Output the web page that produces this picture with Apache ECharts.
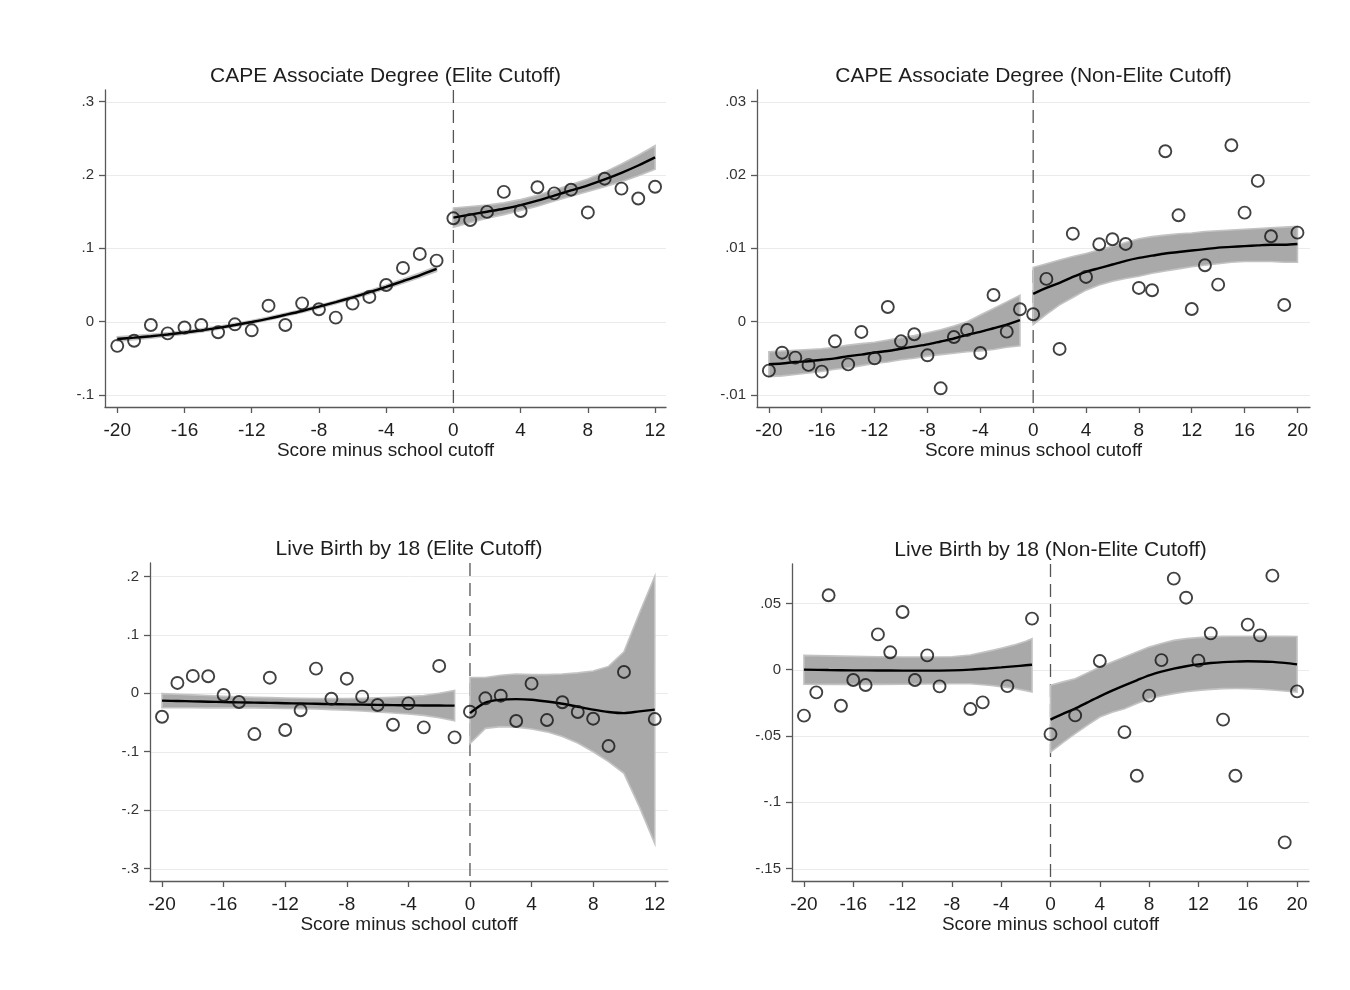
<!DOCTYPE html>
<html>
<head>
<meta charset="utf-8">
<script src="https://cdn.jsdelivr.net/npm/echarts@6.0.0/dist/echarts.min.js"></script>
<style>
  html, body { margin: 0; padding: 0; background: #ffffff; }
  #chart { width: 1350px; height: 990px; }
</style>
</head>
<body>
<div id="chart"></div>
<script>
// ---------- tick values ----------
const xTicksElite = [-20, -16, -12, -8, -4, 0, 4, 8, 12];
const xTicksNonElite = [-20, -16, -12, -8, -4, 0, 4, 8, 12, 16, 20];
const yTicksCape = [-0.1, 0, 0.1, 0.2, 0.3];
const yTicksCapeNE = [-0.01, 0, 0.01, 0.02, 0.03];
const yTicksBirth = [-0.3, -0.2, -0.1, 0, 0.1, 0.2];
const yTicksBirthNE = [-0.15, -0.1, -0.05, 0, 0.05];

const titles = [
  'CAPE Associate Degree (Elite Cutoff)',
  'CAPE Associate Degree (Non-Elite Cutoff)',
  'Live Birth by 18 (Elite Cutoff)',
  'Live Birth by 18 (Non-Elite Cutoff)'
];
const xName = 'Score minus school cutoff';

// ---------- CAPE associate degree, elite cutoff ----------
const capeEliteBinX = [-20, -19, -18, -17, -16, -15, -14, -13, -12, -11, -10, -9, -8, -7, -6, -5, -4, -3, -2, -1,
  0, 1, 2, 3, 4, 5, 6, 7, 8, 9, 10, 11, 12];
const capeEliteBinY = [-0.033, -0.026, -0.0045, -0.016, -0.008, -0.0045, -0.0145, -0.0036, -0.0118, 0.0218,
  -0.0045, 0.025, 0.0169, 0.0055, 0.0246, 0.0337, 0.050, 0.0733, 0.0924, 0.0833,
  0.141, 0.1387, 0.1497, 0.177, 0.151, 0.1833, 0.175, 0.180, 0.149, 0.195, 0.1815, 0.168, 0.184];
const capeEliteLeftX = [-20, -19, -18, -17, -16, -15, -14, -13, -12, -11, -10, -9, -8, -7, -6, -5, -4, -3, -2, -1];
const capeEliteLeftFit = [-0.0236, -0.0218, -0.0198, -0.0175, -0.0148, -0.0118, -0.0084, -0.0046, -0.0004, 0.0042,
  0.0093, 0.0146, 0.0205, 0.0266, 0.0332, 0.0402, 0.0475, 0.0553, 0.0633, 0.0719];
const capeEliteLeftLo = [-0.0266, -0.0246, -0.0224, -0.0199, -0.0170, -0.0139, -0.0104, -0.0066, -0.0024, 0.0022,
  0.0073, 0.0126, 0.0185, 0.0246, 0.0310, 0.0378, 0.0449, 0.0524, 0.0601, 0.0684];
const capeEliteLeftHi = [-0.0206, -0.0190, -0.0172, -0.0151, -0.0126, -0.0097, -0.0064, -0.0026, 0.0016, 0.0062,
  0.0113, 0.0166, 0.0225, 0.0286, 0.0354, 0.0426, 0.0501, 0.0582, 0.0665, 0.0754];
const capeEliteRightX = [0, 1, 2, 3, 4, 5, 6, 7, 8, 9, 10, 11, 12];
const capeEliteRightFit = [0.142, 0.146, 0.150, 0.154, 0.159, 0.165, 0.172, 0.179, 0.186, 0.194, 0.203, 0.213, 0.224];
const capeEliteRightLo = [0.129, 0.135, 0.141, 0.146, 0.1515, 0.1575, 0.1645, 0.171, 0.1775, 0.184, 0.191, 0.199, 0.208];
const capeEliteRightHi = [0.155, 0.157, 0.159, 0.162, 0.1665, 0.1725, 0.1795, 0.187, 0.1945, 0.204, 0.215, 0.227, 0.240];

// ---------- CAPE associate degree, non-elite cutoff ----------
const capeNonEliteBinX = [-20, -19, -18, -17, -16, -15, -14, -13, -12, -11, -10, -9, -8, -7, -6, -5, -4, -3, -2, -1,
  0, 1, 2, 3, 4, 5, 6, 7, 8, 9, 10, 11, 12, 13, 14, 15, 16, 17, 18, 19, 20];
const capeNonEliteBinY = [-0.00668, -0.00423, -0.00491, -0.0059, -0.00682, -0.00268, -0.00582, -0.0014, -0.005, 0.002,
  -0.00268, -0.00172, -0.00459, -0.00909, -0.00209, -0.00113, -0.00427, 0.00364, -0.00136, 0.00169,
  0.00101, 0.00583, -0.00372, 0.0120, 0.0061, 0.01056, 0.01124, 0.0106, 0.0046, 0.00428, 0.02324,
  0.01451, 0.00173, 0.0077, 0.00505, 0.02406, 0.01487, 0.0192, 0.01165, 0.00228, 0.01214];
const capeNonEliteLeftX = [-20, -19, -18, -17, -16, -15, -14, -13, -12, -11, -10, -9, -8, -7, -6, -5, -4, -3, -2, -1];
const capeNonEliteLeftFit = [-0.0058, -0.0057, -0.0055, -0.0054, -0.0052, -0.0050, -0.0047, -0.0045, -0.0042, -0.0040,
  -0.0037, -0.0034, -0.0031, -0.0027, -0.0023, -0.0018, -0.0014, -0.0009, -0.0004, 0.0002];
const capeNonEliteLeftLo = [-0.0075, -0.0074, -0.0072, -0.0070, -0.0068, -0.0065, -0.0063, -0.0060, -0.0057, -0.0055,
  -0.0052, -0.0050, -0.0047, -0.0045, -0.0043, -0.0041, -0.0040, -0.0038, -0.0035, -0.0033];
const capeNonEliteLeftHi = [-0.0041, -0.0040, -0.0039, -0.0038, -0.0037, -0.0035, -0.0032, -0.0030, -0.0028, -0.0025,
  -0.0022, -0.0019, -0.0015, -0.0011, -0.0006, 0.0000, 0.0009, 0.0018, 0.0027, 0.0036];
const capeNonEliteRightX = [0, 1, 2, 3, 4, 5, 6, 7, 8, 9, 10, 11, 12, 13, 14, 15, 16, 17, 18, 19, 20];
const capeNonEliteRightFit = [0.0038, 0.0046, 0.0053, 0.0061, 0.0068, 0.0073, 0.0078, 0.0083, 0.0087, 0.0090, 0.0093,
  0.0095, 0.0097, 0.0099, 0.0101, 0.0102, 0.0103, 0.0104, 0.0105, 0.0105, 0.0106];
const capeNonEliteRightLo = [-0.0004, 0.0010, 0.0023, 0.0033, 0.0043, 0.0050, 0.0055, 0.0059, 0.0062, 0.0066, 0.0069,
  0.0072, 0.0075, 0.0077, 0.0079, 0.0081, 0.0082, 0.0082, 0.0082, 0.0081, 0.0081];
const capeNonEliteRightHi = [0.0074, 0.0079, 0.0084, 0.0089, 0.0093, 0.0098, 0.0103, 0.0108, 0.0113, 0.0116, 0.0118,
  0.0120, 0.0121, 0.0123, 0.0124, 0.0125, 0.0126, 0.0127, 0.0128, 0.0129, 0.0130];

// ---------- live birth by 18, elite cutoff ----------
const birthEliteBinX = [-20, -19, -18, -17, -16, -15, -14, -13, -12, -11, -10, -9, -8, -7, -6, -5, -4, -3, -2, -1,
  0, 1, 2, 3, 4, 5, 6, 7, 8, 9, 10, 12];
const birthEliteBinY = [-0.0401, 0.0177, 0.0297, 0.0291, -0.0029, -0.0149, -0.0698, 0.0267, -0.0629, -0.0291,
  0.0422, -0.0093, 0.025, -0.0058, -0.0201, -0.0538, -0.0172, -0.0583, 0.0468, -0.0754,
  -0.0315, -0.0086, -0.0041, -0.0475, 0.0165, -0.0458, -0.0154, -0.0321, -0.0435, -0.0903, 0.0365, -0.0441];
const birthEliteLeftX = [-20, -19, -18, -17, -16, -15, -14, -13, -12, -11, -10, -9, -8, -7, -6, -5, -4, -3, -2, -1];
const birthEliteLeftFit = [-0.0126, -0.0132, -0.0138, -0.0144, -0.0150, -0.0155, -0.0160, -0.0165, -0.0170, -0.0175,
  -0.0180, -0.0185, -0.0190, -0.0194, -0.0198, -0.0202, -0.0205, -0.0208, -0.0210, -0.0212];
const birthEliteLeftLo = [-0.0246, -0.0247, -0.0248, -0.0249, -0.0250, -0.0250, -0.0250, -0.0255, -0.0260, -0.0265,
  -0.0270, -0.0280, -0.0290, -0.0304, -0.0318, -0.0337, -0.0355, -0.0378, -0.0420, -0.0472];
const birthEliteLeftHi = [-0.0006, -0.0017, -0.0028, -0.0039, -0.0050, -0.0060, -0.0070, -0.0075, -0.0080, -0.0085,
  -0.0090, -0.0090, -0.0090, -0.0084, -0.0078, -0.0067, -0.0055, -0.0038, 0.0000, 0.0048];
const birthEliteRightX = [0, 1, 2, 3, 4, 5, 6, 7, 8, 9, 10, 11, 12];
const birthEliteRightFit = [-0.034, -0.016, -0.011, -0.010, -0.011, -0.014, -0.018, -0.023, -0.028, -0.032, -0.034,
  -0.031, -0.028];
const birthEliteRightLo = [-0.086, -0.060, -0.057, -0.058, -0.061, -0.066, -0.074, -0.085, -0.100, -0.117, -0.137,
  -0.194, -0.257];
const birthEliteRightHi = [0.027, 0.027, 0.031, 0.033, 0.032, 0.032, 0.033, 0.035, 0.038, 0.046, 0.071, 0.137, 0.200];

// ---------- live birth by 18, non-elite cutoff ----------
const birthNonEliteBinX = [-20, -19, -18, -17, -16, -15, -14, -13, -12, -11, -10, -9, -6.5, -5.5, -3.5, -1.5,
  0, 2, 4, 6, 7, 8, 9, 10, 11, 12, 13, 14, 15, 16, 17, 18, 19, 20];
const birthNonEliteBinY = [-0.0347, -0.0171, 0.0561, -0.0272, -0.0078, -0.0116, 0.0266, 0.0131, 0.0435, -0.0078,
  0.0108, -0.0126, -0.0297, -0.0247, -0.0124, 0.0385,
  -0.0486, -0.0345, 0.0065, -0.0471, -0.080, -0.0196, 0.0072, 0.0687, 0.0543, 0.0068, 0.0274, -0.0377, -0.080,
  0.034, 0.0259, 0.0709, -0.1303, -0.0164];
const birthNonEliteLeftX = [-20, -18, -16, -14, -12, -10, -8, -6.5, -5, -4, -3, -2, -1.5];
const birthNonEliteLeftFit = [0.0000, -0.0003, -0.0005, -0.0006, -0.0007, -0.0007, -0.0005, 0.0000, 0.0010, 0.0017,
  0.0025, 0.0033, 0.0037];
const birthNonEliteLeftLo = [-0.0110, -0.0111, -0.0111, -0.0111, -0.0110, -0.0108, -0.0106, -0.0106, -0.0118, -0.0128,
  -0.0140, -0.0158, -0.0169];
const birthNonEliteLeftHi = [0.0108, 0.0104, 0.0100, 0.0097, 0.0095, 0.0095, 0.0097, 0.0110, 0.0140, 0.0162, 0.0185,
  0.0215, 0.0234];
const birthNonEliteRightX = [0, 1, 2, 3, 4, 5, 6, 7, 8, 9, 10, 11, 12, 13, 14, 15, 16, 17, 18, 19, 20];
const birthNonEliteRightFit = [-0.0377, -0.0334, -0.0294, -0.0247, -0.0201, -0.0158, -0.0118, -0.0080, -0.0043, -0.0015,
  0.0008, 0.0026, 0.0040, 0.0050, 0.0057, 0.0061, 0.0063, 0.0062, 0.0059, 0.0051, 0.0040];
const birthNonEliteRightLo = [-0.0622, -0.0550, -0.0483, -0.0418, -0.0357, -0.0322, -0.0294, -0.0255, -0.0219, -0.0198,
  -0.0181, -0.0167, -0.0156, -0.0149, -0.0143, -0.0142, -0.0143, -0.0147, -0.0153, -0.0161, -0.0169];
const birthNonEliteRightHi = [-0.0118, -0.0092, -0.0068, -0.0024, 0.0020, 0.0058, 0.0095, 0.0133, 0.0170, 0.0198,
  0.0221, 0.0234, 0.0242, 0.0247, 0.0251, 0.0252, 0.0252, 0.0252, 0.0251, 0.0251, 0.0250];

// ---------- layout of the four panels ----------
const panels = [
  {
    grid: { left: 105, top: 90, width: 561, height: 317 },
    xRange: [-20.73, 12.65], yRange: [-0.1164, 0.316],
    xTicks: xTicksElite, yTicks: yTicksCape,
    binX: capeEliteBinX, binY: capeEliteBinY,
    pieces: [
      [capeEliteLeftX, capeEliteLeftFit, capeEliteLeftLo, capeEliteLeftHi],
      [capeEliteRightX, capeEliteRightFit, capeEliteRightLo, capeEliteRightHi]
    ]
  },
  {
    grid: { left: 757, top: 90, width: 553, height: 317 },
    xRange: [-20.9, 20.95], yRange: [-0.01164, 0.0316],
    xTicks: xTicksNonElite, yTicks: yTicksCapeNE,
    binX: capeNonEliteBinX, binY: capeNonEliteBinY,
    pieces: [
      [capeNonEliteLeftX, capeNonEliteLeftFit, capeNonEliteLeftLo, capeNonEliteLeftHi],
      [capeNonEliteRightX, capeNonEliteRightFit, capeNonEliteRightLo, capeNonEliteRightHi]
    ]
  },
  {
    grid: { left: 150, top: 563, width: 518, height: 318 },
    xRange: [-20.78, 12.86], yRange: [-0.3213, 0.223],
    xTicks: xTicksElite, yTicks: yTicksBirth,
    binX: birthEliteBinX, binY: birthEliteBinY,
    pieces: [
      [birthEliteLeftX, birthEliteLeftFit, birthEliteLeftLo, birthEliteLeftHi],
      [birthEliteRightX, birthEliteRightFit, birthEliteRightLo, birthEliteRightHi]
    ]
  },
  {
    grid: { left: 792, top: 564, width: 517, height: 317 },
    xRange: [-20.97, 20.97], yRange: [-0.1594, 0.0797],
    xTicks: xTicksNonElite, yTicks: yTicksBirthNE,
    binX: birthNonEliteBinX, binY: birthNonEliteBinY,
    pieces: [
      [birthNonEliteLeftX, birthNonEliteLeftFit, birthNonEliteLeftLo, birthNonEliteLeftHi],
      [birthNonEliteRightX, birthNonEliteRightFit, birthNonEliteRightLo, birthNonEliteRightHi]
    ]
  }
];

const FONT = 'Liberation Sans, Arial, sans-serif';
const AXIS_COLOR = '#595959';

// Stata-style numbers: drop the leading zero (.1, -.05)
function stataNum(v) {
  return String(v).replace(/^(-?)0\./, '$1.');
}

const option = {
  animation: false,
  backgroundColor: '#ffffff',
  title: [],
  grid: [],
  xAxis: [],
  yAxis: [],
  series: []
};

panels.forEach(function (p, i) {
  option.grid.push(Object.assign({ containLabel: false }, p.grid));

  option.title.push({
    text: titles[i],
    left: p.grid.left + p.grid.width / 2,
    top: p.grid.top - 24,
    textAlign: 'center',
    padding: 0,
    textStyle: { fontFamily: FONT, fontSize: 21, fontWeight: 'normal', color: '#1e1e1e' }
  });

  option.xAxis.push({
    type: 'value', gridIndex: i,
    min: p.xRange[0], max: p.xRange[1],
    name: xName, nameLocation: 'middle', nameGap: 33,
    nameTextStyle: { fontFamily: FONT, fontSize: 19, color: '#1e1e1e' },
    axisLine: { show: true, onZero: false, lineStyle: { color: AXIS_COLOR, width: 1.3 } },
    axisTick: { show: true, length: 6, customValues: p.xTicks, lineStyle: { color: AXIS_COLOR, width: 1.3 } },
    axisLabel: { customValues: p.xTicks, margin: 14, fontFamily: FONT, fontSize: 19, color: '#1e1e1e' },
    splitLine: { show: false }
  });

  option.yAxis.push({
    type: 'value', gridIndex: i,
    min: p.yRange[0], max: p.yRange[1],
    axisLine: { show: true, onZero: false, lineStyle: { color: AXIS_COLOR, width: 1.3 } },
    axisTick: { show: true, length: 6, customValues: p.yTicks, lineStyle: { color: AXIS_COLOR, width: 1.3 } },
    axisLabel: {
      customValues: p.yTicks, margin: 11, fontFamily: FONT, fontSize: 15, color: '#333333',
      formatter: stataNum
    },
    splitLine: { show: false }
  });

  // horizontal grid lines and the dashed cutoff line at x = 0
  option.series.push({
    type: 'custom', xAxisIndex: i, yAxisIndex: i, silent: true, z: 0,
    data: [[0, 0]],
    renderItem: function (params, api) {
      const cs = params.coordSys;
      const kids = p.yTicks.map(function (v) {
        const y = Math.round(api.coord([0, v])[1]) + 0.5;
        return {
          type: 'line',
          shape: { x1: cs.x + 1, y1: y, x2: cs.x + cs.width, y2: y },
          style: { stroke: '#ebebeb', lineWidth: 1 }
        };
      });
      const x0 = api.coord([0, 0])[0];
      kids.push({
        type: 'line',
        shape: { x1: x0, y1: cs.y, x2: x0, y2: cs.y + cs.height },
        style: { stroke: '#555555', lineWidth: 1.3, lineDash: [13, 7] }
      });
      return { type: 'group', children: kids };
    }
  });

  p.pieces.forEach(function (piece) {
    const xs = piece[0], fit = piece[1], lo = piece[2], hi = piece[3];

    // confidence band
    option.series.push({
      type: 'custom', xAxisIndex: i, yAxisIndex: i, silent: true, z: 2,
      data: [[xs[0], fit[0]]],
      renderItem: function (params, api) {
        const pts = [];
        for (let k = 0; k < xs.length; k++) pts.push(api.coord([xs[k], hi[k]]));
        for (let k = xs.length - 1; k >= 0; k--) pts.push(api.coord([xs[k], lo[k]]));
        return {
          type: 'polygon',
          shape: { points: pts },
          style: { fill: '#a9a9a9', stroke: '#c3c3c3', lineWidth: 1.6 }
        };
      }
    });

    // fitted curve
    option.series.push({
      type: 'line', xAxisIndex: i, yAxisIndex: i, silent: true, z: 3,
      showSymbol: false, smooth: 0.3,
      lineStyle: { color: '#000000', width: 2.4 },
      data: xs.map(function (x, k) { return [x, fit[k]]; })
    });
  });

  // binned means
  option.series.push({
    type: 'scatter', xAxisIndex: i, yAxisIndex: i, silent: true, z: 4,
    symbol: 'circle', symbolSize: 12,
    itemStyle: { color: 'rgba(255,255,255,0)', borderColor: '#111111', borderWidth: 1.9 },
    data: p.binX.map(function (x, k) { return [x, p.binY[k]]; })
  });
});

const chart = echarts.init(document.getElementById('chart'), null, { renderer: 'canvas' });
chart.setOption(option);
</script>
</body>
</html>
